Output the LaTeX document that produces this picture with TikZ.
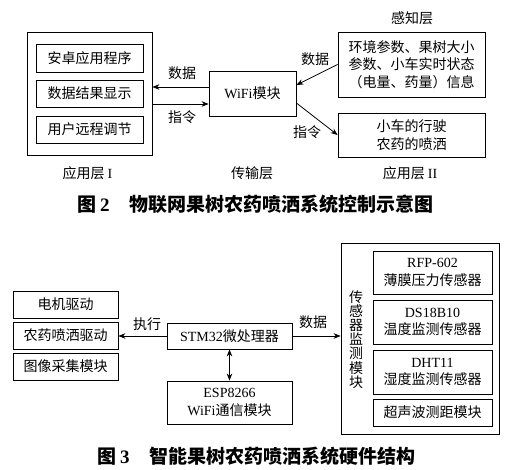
\documentclass[tikz,border=0pt]{standalone}
\usepackage{fontspec}
\setmainfont{Liberation Serif}
\newfontfamily\cjk{Noto Sans CJK SC}
\usetikzlibrary{arrows.meta}
\newcommand\txtfont{\fontsize{14}{17.5}\selectfont\cjk}
\newcommand\capfont{\fontsize{19}{21}\selectfont\cjk\bfseries}
\begin{document}
\begin{tikzpicture}[x=1pt,y=-1pt,
  box/.style={draw, line width=0.8pt, inner sep=0pt, align=center, font=\txtfont},
  lbl/.style={inner sep=0pt, align=center, font=\txtfont},
  vert/.style={inner sep=0pt, align=center, font=\fontsize{14}{14.2}\selectfont\cjk},
  captext/.style={inner sep=0pt, font=\capfont},
  arr/.style={line width=0.8pt, -{Stealth[length=7pt,width=5.5pt]}},
  darr/.style={line width=0.8pt, {Stealth[length=7pt,width=5.5pt]}-{Stealth[length=7pt,width=5.5pt]}}
]
\useasboundingbox[fill=white] (0,0) rectangle (516,470);

% ---------- Figure 2 ----------
\node[box, minimum width=125pt, minimum height=123pt] (appI) at (89.5,93.5) {};
\node[box, minimum width=107pt, minimum height=28pt] (a1) at (89.5,58) {安卓应用程序};
\node[box, minimum width=107pt, minimum height=27pt] (a2) at (89.5,93.5) {数据结果显示};
\node[box, minimum width=107pt, minimum height=27pt] (a3) at (89.5,129.5) {用户远程调节};
\node[lbl] (lI) at (87.5,173) {应用层 {\rmfamily I}};

\node[box, minimum width=87pt, minimum height=45pt] (wifi) at (252.5,93.5) {{\rmfamily WiFi}模块};
\node[lbl] (lT) at (252,173) {传输层};

\node[box, minimum width=147pt, minimum height=65pt] (sense) at (411.5,64.5) {环境参数、果树大小\\参数、小车实时状态\\（电量、药量）信息};
\node[lbl] (lS) at (412,18) {感知层};
\node[box, minimum width=147pt, minimum height=44pt] (act) at (411.5,135) {小车的行驶\\农药的喷洒};
\node[lbl] (lII) at (410,173) {应用层 {\rmfamily II}};

\draw[arr] ([yshift=6.5pt]wifi.west) -- ([yshift=6.5pt]wifi.west -| appI.east);
\draw[arr] ([yshift=-10.5pt]appI.east) -- ([yshift=-10.5pt]appI.east -| wifi.west);
\node[lbl] (d1) at (182,73) {数据};
\node[lbl] (c1) at (182,117) {指令};

\draw[arr] (sense.west) -- ([yshift=8.5pt]wifi.east);
\draw[arr] ([yshift=-9.5pt]wifi.east) -- (act.west);
\node[lbl] (d2) at (315,59) {数据};
\node[lbl] (c2) at (307,132) {指令};

\node[captext, anchor=west] (cap2) at (77,204) {图\hspace{4pt}{\rmfamily\bfseries 2}\hspace{20pt}物联网果树农药喷洒系统控制示意图};

% ---------- Figure 3 ----------
\node[box, minimum width=105pt, minimum height=27pt] (l1) at (65.5,304.5) {电机驱动};
\node[box, minimum width=105pt, minimum height=27pt] (l2) at (65.5,335.5) {农药喷洒驱动};
\node[box, minimum width=105pt, minimum height=27pt] (l3) at (65.5,366.5) {图像采集模块};

\node[box, minimum width=125pt, minimum height=26pt] (stm) at (229.5,336) {{\rmfamily STM32}微处理器};
\node[box, minimum width=125pt, minimum height=43pt] (esp) at (229.5,402.5) {{\rmfamily ESP8266}\\{\rmfamily WiFi}通信模块};

\node[box, minimum width=158pt, minimum height=191pt] (sens) at (420,338.5) {};
\node[box, minimum width=119pt, minimum height=43pt] (s1) at (432.5,272.5) {{\rmfamily RFP-602}\\薄膜压力传感器};
\node[box, minimum width=119pt, minimum height=44pt] (s2) at (432.5,322) {{\rmfamily DS18B10}\\温度监测传感器};
\node[box, minimum width=119pt, minimum height=44pt] (s3) at (432.5,372) {{\rmfamily DHT11}\\湿度监测传感器};
\node[box, minimum width=119pt, minimum height=27pt] (s4) at (432.5,412.5) {超声波测距模块};
\node[vert] (vt) at (356,339.5) {传\\感\\器\\监\\测\\模\\块};

\draw[arr] (stm.west) -- (stm.west -| l2.east);
\node[lbl] (ex) at (147,324) {执行};
\draw[arr] (stm.east) -- (stm.east -| sens.west);
\node[lbl] (d3) at (313,322) {数据};
\draw[darr] (stm.south) -- (esp.north);

\node[captext, anchor=west] (cap3) at (97,456) {图\hspace{4pt}{\rmfamily\bfseries 3}\hspace{20pt}智能果树农药喷洒系统硬件结构};
\end{tikzpicture}
\end{document}
